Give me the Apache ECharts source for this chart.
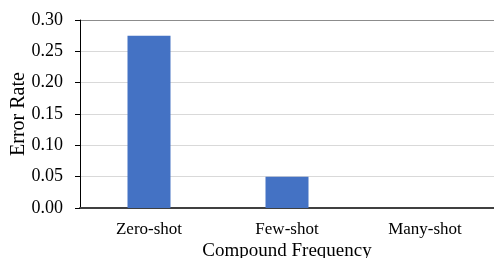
<!DOCTYPE html>
<html>
<head>
<meta charset="utf-8">
<script src="https://cdn.jsdelivr.net/npm/echarts@6/dist/echarts.min.js"></script>
<style>
  html, body { margin: 0; padding: 0; background: #fff; }
  #main { width: 494px; height: 258px; }
</style>
</head>
<body>
<div id="main"></div>
<script>
var categories = ['Zero-shot', 'Few-shot', 'Many-shot'];
var errorRate = [0.275, 0.05, 0];
var yTicks = [0, 0.05, 0.10, 0.15, 0.20, 0.25, 0.30];

var font = 'Liberation Serif';
var chart = echarts.init(document.getElementById('main'));

// grid lines: light gray, the top one (0.30) darker
var splitColors = yTicks.map(function (v, i) {
    return i === yTicks.length - 1 ? '#8c8c8c' : '#d9d9d9';
});

chart.setOption({
    animation: false,
    grid: { left: 80, right: 0, top: 20, bottom: 50, outerBoundsMode: 'none' },
    xAxis: {
        type: 'category',
        data: categories,
        axisLine: { lineStyle: { color: '#404040', width: 2 } },
        axisTick: { show: false },
        axisLabel: { color: '#000', fontFamily: font, fontSize: 17, margin: 13 },
        name: 'Compound Frequency',
        nameLocation: 'middle',
        nameMoveOverlap: false,
        nameGap: 34,
        nameTextStyle: { color: '#000', fontFamily: font, fontSize: 19 }
    },
    yAxis: {
        type: 'value',
        min: 0,
        max: 0.3,
        interval: 0.05,
        axisLine: { show: true, lineStyle: { color: '#000', width: 1 } },
        axisTick: { show: true, length: 5, lineStyle: { color: '#000' } },
        axisLabel: {
            color: '#000', fontFamily: font, fontSize: 18, margin: 17,
            formatter: function (v) { return v.toFixed(2); }
        },
        splitLine: { show: true, lineStyle: { color: splitColors, width: 1 } },
        name: 'Error Rate',
        nameLocation: 'middle',
        nameMoveOverlap: false,
        nameGap: 51,
        nameTextStyle: { color: '#000', fontFamily: font, fontSize: 20 }
    },
    series: [{
        type: 'bar',
        data: errorRate,
        barWidth: 43,
        itemStyle: { color: '#4472c4' }
    }]
});
</script>
</body>
</html>
